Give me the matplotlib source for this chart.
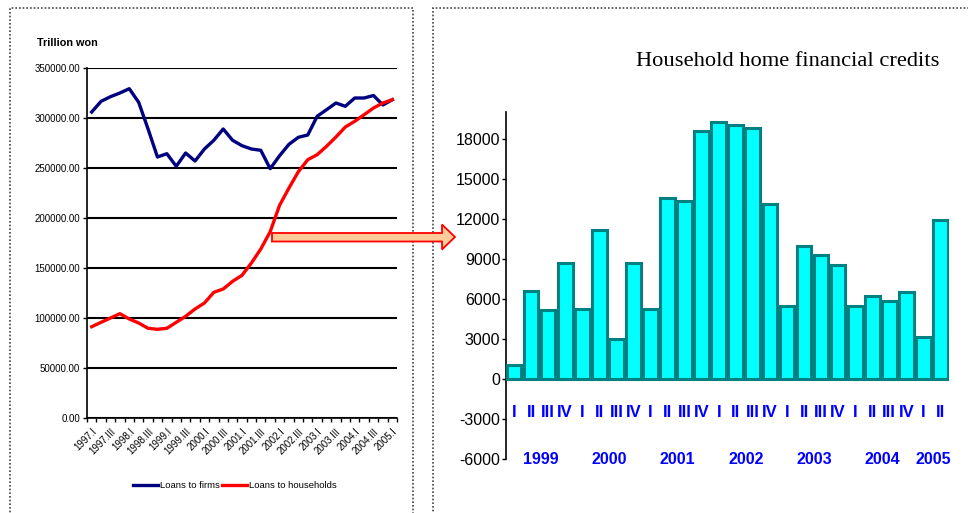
import matplotlib
matplotlib.use("Agg")
import matplotlib.pyplot as plt
from matplotlib.patches import Rectangle, Polygon
import numpy as np

# ---- Left chart: outstanding loans, quarterly 1997.I - 2005.I ----
loan_years = [1997, 1998, 1999, 2000, 2001, 2002, 2003, 2004, 2005]
roman = ["I", "II", "III", "IV"]
loan_quarters = [f"{y}.{q}" for y in loan_years for q in roman][:33]

loans_firms = [306000, 316700, 321300, 325000, 329300, 315700, 289000, 261000,
               264300, 251700, 265000, 257000, 269000, 277700, 289000, 277700,
               272300, 269000, 267700, 249300, 262300, 273700, 280700, 283000,
               301700, 308300, 315000, 311700, 320000, 320000, 322500, 313000,
               318300]
loans_households = [91300, 95700, 100000, 104300, 99000, 95000, 89700, 88700,
                    89700, 95700, 101700, 109000, 115000, 125700, 129000, 136700,
                    142700, 155000, 169000, 186300, 212700, 230000, 246300, 258300,
                    263300, 271700, 281000, 291000, 296700, 303300, 310000, 315000,
                    318300]
left_yticks = [0, 50000, 100000, 150000, 200000, 250000, 300000, 350000]

# ---- Right chart: household home financial credits, 1999.I - 2005.II ----
credit_years = ["1999", "2000", "2001", "2002", "2003", "2004", "2005"]
credit_quarter_labels = ["I", "II", "III", "IV"] * 6 + ["I", "II"]
credit_year_of_bar = [y for y in credit_years[:-1] for _ in range(4)] + ["2005", "2005"]
home_credits = [1075, 6625, 5175, 8650, 5250, 11150, 3025, 8650, 5250, 13575,
                13325, 18550, 19250, 19025, 18825, 13075, 5500, 9925, 9300, 8500,
                5500, 6250, 5825, 6500, 3125, 11875]
right_yticks = [-6000, -3000, 0, 3000, 6000, 9000, 12000, 15000, 18000]

W, H = 968, 513
fig = plt.figure(figsize=(W / 100, H / 100), dpi=100)
fig.patch.set_facecolor("white")

def fx(px):
    return px / W

def fy(py):
    return 1 - py / H

narrow = ["Liberation Sans Narrow", "Liberation Sans", "DejaVu Sans"]
sans = ["Liberation Sans", "DejaVu Sans"]

# panel frames (dotted)
for x0, x1 in [(10, 413), (433, 975)]:
    fig.add_artist(Rectangle((fx(x0), fy(520)), fx(x1) - fx(x0), fy(8) - fy(520),
                             transform=fig.transFigure, fill=False,
                             edgecolor="#444444", linestyle=(0, (1, 1.2)),
                             linewidth=1.2, zorder=0))

# ---------------- left chart ----------------
axL = fig.add_axes([fx(87), fy(418), fx(397) - fx(87), fy(68) - fy(418)])
xL = np.arange(len(loan_quarters))
for v in left_yticks:
    axL.axhline(v, color="black", lw=1.5, zorder=1)
axL.plot(xL, loans_firms, color="#000080", lw=2.4, zorder=3,
         label="Loans to firms", solid_joinstyle="round")
axL.plot(xL, loans_households, color="#FF0000", lw=2.4, zorder=3,
         label="Loans to households", solid_joinstyle="round")
axL.set_xlim(-0.5, len(loan_quarters) - 0.5)
axL.set_ylim(0, 350000)
for s in ["top", "right"]:
    axL.spines[s].set_visible(False)
axL.spines["left"].set_linewidth(1.2)
axL.spines["bottom"].set_linewidth(1.2)
axL.set_yticks(left_yticks)
axL.set_yticklabels([f"{v:.2f}" for v in left_yticks], fontsize=7.0,
                    family=narrow)
axL.tick_params(axis="y", length=3, width=1, pad=2)
# ticks between categories, labels on every second quarter
axL.set_xticks(np.arange(-0.5, len(loan_quarters), 1.0))
axL.set_xticklabels([])
axL.set_xticks(xL[::2], minor=True)
axL.set_xticklabels(loan_quarters[::2], minor=True, rotation=45, ha="right",
                    va="top", rotation_mode="anchor", fontsize=7.0, family=narrow)
axL.tick_params(axis="x", which="major", length=3, width=1)
axL.tick_params(axis="x", which="minor", length=0, pad=6)
fig.text(fx(37), fy(43), "Trillion won", fontsize=7.8, fontweight="bold",
         family=sans, va="center", ha="left")
axL.legend(loc="center", bbox_to_anchor=(fx(235), fy(486)),
           bbox_transform=fig.transFigure, ncol=2, frameon=False,
           prop={"family": narrow, "size": 6.8}, handlelength=2.6,
           handletextpad=0.2, columnspacing=0.3)

# ---------------- right chart ----------------
axR = fig.add_axes([fx(506), fy(459), fx(949) - fx(506), fy(112) - fy(459)])
xR = np.arange(len(home_credits))
axR.bar(xR, home_credits, width=0.86, color="#00FFFF", edgecolor="#008080",
        linewidth=2.2, zorder=3)
axR.set_xlim(-0.47, len(home_credits) - 0.5)
axR.set_ylim(-6000, 20000)
for s in ["top", "right", "bottom"]:
    axR.spines[s].set_visible(False)
axR.spines["left"].set_linewidth(1.2)
axR.set_xticks([])
axR.set_yticks(right_yticks)
axR.set_yticklabels([str(v) for v in right_yticks], fontsize=11.5, family=narrow)
axR.tick_params(axis="y", length=3, width=1, pad=1)

for i, q in enumerate(credit_quarter_labels):
    axR.text(i, -2550, q, color="#0000FF", fontsize=12, fontweight="bold",
             family=narrow, ha="center", va="center")
for y in credit_years:
    idx = [i for i, yy in enumerate(credit_year_of_bar) if yy == y]
    axR.text(np.mean(idx) + 0.1, -6000, y, color="#0000FF", fontsize=11.5,
             fontweight="bold", family=narrow, ha="center", va="center")

fig.text(fx(788), fy(62), "Household home financial credits", fontsize=16.2,
         family=["Liberation Serif", "DejaVu Serif"], ha="center", va="center")

# connecting block arrow
arrow_pts = [(272, 233), (442, 233), (442, 224.5), (455, 237), (442, 249.5),
             (442, 241.5), (272, 241.5)]
fig.add_artist(Polygon([(fx(a), fy(b)) for a, b in arrow_pts], closed=True,
                       transform=fig.transFigure, facecolor="#FFCC99",
                       edgecolor="#FF0000", linewidth=1.3, zorder=10))

fig.savefig("out.png", dpi=100, facecolor="white")
